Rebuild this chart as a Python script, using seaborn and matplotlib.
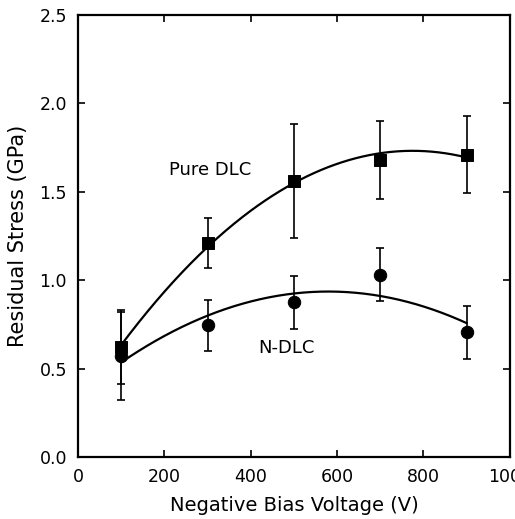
import numpy as np
import pandas as pd
import matplotlib
matplotlib.use("Agg")
import matplotlib.pyplot as plt
import seaborn as sns

voltage = [100, 300, 500, 700, 900]
pure_dlc = [0.62, 1.21, 1.56, 1.68, 1.71]
pure_err = [0.21, 0.14, 0.32, 0.22, 0.22]
n_dlc = [0.57, 0.745, 0.875, 1.03, 0.705]
n_err = [0.25, 0.145, 0.15, 0.15, 0.15]
x_ticks = [0, 200, 400, 600, 800, 1000]
y_ticks = [0.0, 0.5, 1.0, 1.5, 2.0, 2.5]

sns.set_style("ticks")
plt.rcParams['font.family'] = ['DejaVu Sans']
plt.rcParams['text.color'] = 'black'
plt.rcParams['axes.labelcolor'] = 'black'
plt.rcParams['xtick.color'] = 'black'
plt.rcParams['ytick.color'] = 'black'

fig = plt.figure(figsize=(5.15, 5.19), dpi=100)
ax = fig.add_axes([0.1515, 0.1195, 0.8385, 0.852])

# fitted curves (quadratic fits of the measured points)
xs = np.linspace(100, 900, 200)
fits = []
for name, vals in [("Pure DLC", pure_dlc), ("N-DLC", n_dlc)]:
    c = np.polyfit(voltage, vals, 2)
    fits.append(pd.DataFrame({"x": xs, "y": np.polyval(c, xs), "s": name}))
fit_df = pd.concat(fits)
sns.lineplot(data=fit_df, x="x", y="y", units="s", estimator=None,
             color="black", lw=1.6, ax=ax)

ax.errorbar(voltage, pure_dlc, yerr=pure_err, fmt="none", ecolor="black",
            elinewidth=1.2, capsize=3, capthick=1.2)
ax.errorbar(voltage, n_dlc, yerr=n_err, fmt="none", ecolor="black",
            elinewidth=1.2, capsize=3, capthick=1.2)

df_p = pd.DataFrame({"x": voltage, "y": pure_dlc})
df_n = pd.DataFrame({"x": voltage, "y": n_dlc})
sns.scatterplot(data=df_p, x="x", y="y", marker="s", s=75, color="black",
                edgecolor="black", ax=ax, zorder=5)
sns.scatterplot(data=df_n, x="x", y="y", marker="o", s=80, color="black",
                edgecolor="black", ax=ax, zorder=5)

ax.text(305, 1.62, "Pure DLC", ha="center", va="center", fontsize=13)
ax.text(482, 0.615, "N-DLC", ha="center", va="center", fontsize=13)

ax.set_xlim(0, 1000)
ax.set_ylim(0, 2.5)
ax.set_xticks(x_ticks)
ax.set_yticks(y_ticks)
ax.set_xticklabels([str(t) for t in x_ticks])
ax.set_yticklabels([f"{t:.1f}" for t in y_ticks])
ax.tick_params(direction="in", length=5, width=1.2, top=True, right=True,
               labelsize=12.5, pad=8)
for sp in ax.spines.values():
    sp.set_visible(True)
    sp.set_linewidth(1.6)
    sp.set_color("black")

ax.set_xlabel("Negative Bias Voltage (V)", fontsize=14, labelpad=7)
ax.set_ylabel("Residual Stress (GPa)", fontsize=15, labelpad=8)

fig.savefig("out.png", dpi=100)
